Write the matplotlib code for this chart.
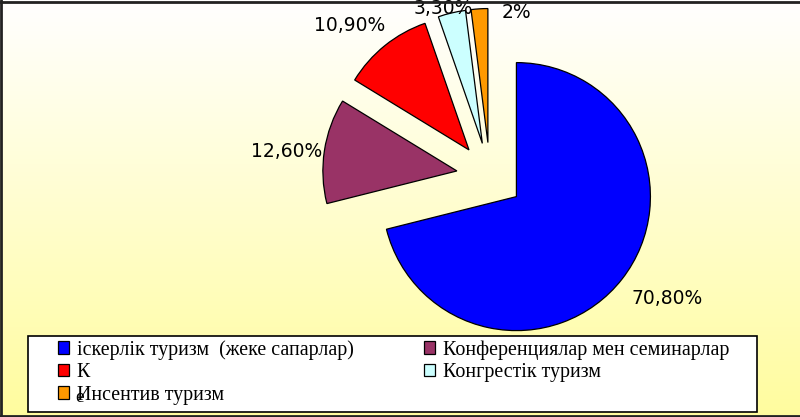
import matplotlib
matplotlib.use("Agg")
import matplotlib.pyplot as plt
from matplotlib.lines import Line2D
from matplotlib.patches import Rectangle
import numpy as np

categories = ["іскерлік туризм  (жеке сапарлар)", "Конференциялар мен семинарлар",
              "К", "Конгрестік туризм", "Инсентив туризм"]
shares = [70.8, 12.6, 10.9, 3.3, 2.0]
share_labels = ["70,80%", "12,60%", "10,90%", "3,30%", "2%"]
colors = ["#0000ff", "#993366", "#ff0000", "#ccffff", "#ff9900"]

# label placement: distance from exploded wedge tip (in radii), angle shift (deg)
label_place = [(1.36, 4), (1.28, 2), (1.29, 5), (1.05, 3), (0.99, -16)]

W, H = 800, 417
fig = plt.figure(figsize=(W / 100, H / 100), dpi=100)

# background gradient white -> pale yellow
bg = fig.add_axes([0, 0, 1, 1], zorder=0)
grad = np.linspace(0, 1, 256)[:, None]
top = np.array([1.0, 1.0, 1.0])
bot = np.array([1.0, 0.99, 0.62])
img = top[None, None, :] * (1 - grad[..., None]) + bot[None, None, :] * grad[..., None]
bg.imshow(img, aspect="auto", extent=[0, 1, 0, 1])
bg.axis("off")

# pie, radius 134 px, centre at (490, 176) px
r_px, cx, cy = 134, 490, 176
ax = fig.add_axes([0, 0, 1, 1], zorder=1)
ax.patch.set_alpha(0)
wedges, _ = ax.pie(shares, colors=colors, startangle=90, counterclock=False,
                   explode=[0.25] * len(shares),
                   wedgeprops=dict(edgecolor="black", linewidth=0.9))
ax.set_aspect("auto")
ax.set_xlim(-cx / r_px, (W - cx) / r_px)
ax.set_ylim(-(H - cy) / r_px, cy / r_px)
ax.axis("off")

for w, lab, (d, dt) in zip(wedges, share_labels, label_place):
    th = np.deg2rad((w.theta1 + w.theta2) / 2 + dt)
    x0, y0 = w.center
    ax.text(x0 + d * np.cos(th), y0 + d * np.sin(th), lab, ha="center", va="center",
            fontsize=13.5, family="DejaVu Sans", color="black", clip_on=False)

# legend frame
fig.add_artist(Rectangle((28 / W, 1 - 412 / H), 729 / W, 76 / H, transform=fig.transFigure,
                         facecolor="white", edgecolor="black", linewidth=1.2, zorder=2))

order = [0, 2, 4, 1, 3]
leg = fig.legend([wedges[i] for i in order], [categories[i] for i in order],
                 loc="upper left", bbox_to_anchor=(58 / W, 1 - 340 / H), ncol=2,
                 frameon=False, prop=dict(family="Liberation Serif", size=14.4),
                 handlelength=0.55, handleheight=0.6, handletextpad=0.38,
                 columnspacing=3.55, labelspacing=0.17, borderpad=0, borderaxespad=0)
leg.set_zorder(3)
fig.text(80 / W, 1 - 398 / H, "е", family="Liberation Serif", fontsize=14,
         ha="center", va="center", zorder=4)

# outer border
for xs, ys in [([0, 1], [1 - 2 / H] * 2), ([1 / W] * 2, [0, 1]), ([0, 1], [1 / H] * 2)]:
    fig.add_artist(Line2D(xs, ys, transform=fig.transFigure, color="#222222",
                          linewidth=2, zorder=5))

fig.savefig("out.png", dpi=100)
